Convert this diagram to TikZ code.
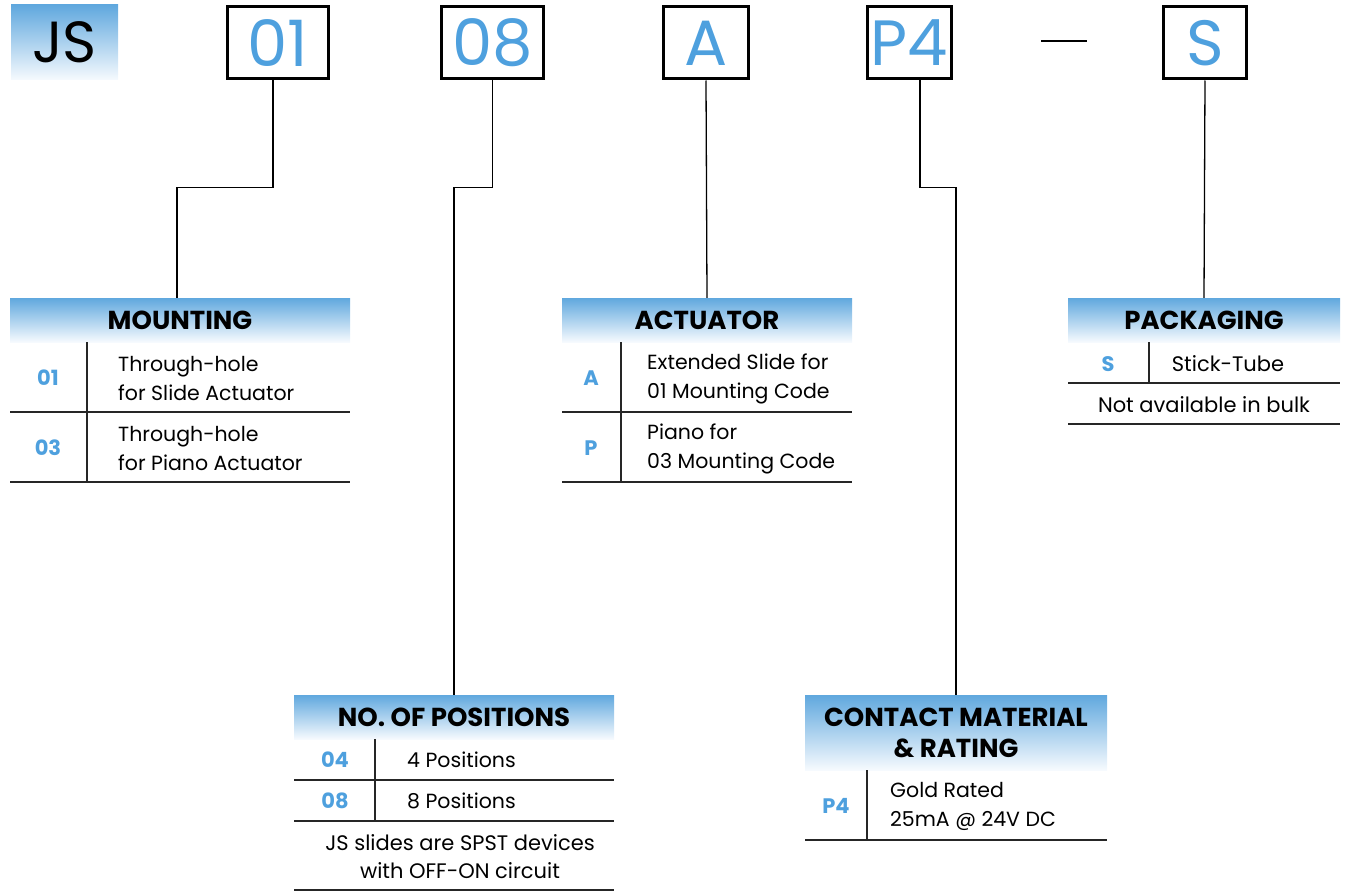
\documentclass[tikz,border=0pt]{standalone}
\usepackage{fontspec}
\setmainfont{Poppins}
\definecolor{hblue}{RGB}{78,160,222}
\definecolor{gtop}{RGB}{96,168,222}
\definecolor{gbot}{RGB}{246,250,254}
\tikzset{
  bigbox/.style={draw=black, line width=3pt, minimum height=72pt, inner sep=0pt,
    font=\fontsize{64}{64}\selectfont, text=hblue},
  conn/.style={line width=1.3pt},
  rulel/.style={line width=1.5pt, draw=black!85},
  hdr/.style={inner sep=0pt, font=\bfseries\fontsize{26}{31}\selectfont, align=center,
    top color=gtop, bottom color=gbot},
  code/.style={font=\bfseries\fontsize{21}{22}\selectfont, text=hblue, inner sep=0pt},
  body/.style={font=\fontsize{20.5}{29}\selectfont, align=left, anchor=west, inner sep=0pt},
  note/.style={font=\fontsize{21}{28}\selectfont, align=center, inner sep=0pt},
}
\begin{document}
\begin{tikzpicture}[x=1pt,y=-1pt]
\useasboundingbox (0,0) rectangle (1345,891);
% top code boxes
\node[minimum width=107pt, minimum height=75pt, inner sep=0pt, top color=gtop, bottom color=gbot,
  font=\fontsize{58}{58}\selectfont] (js) at (64.5,42.5) {JS};
\node[bigbox, minimum width=101pt] (b01) at (278,43) {01};
\node[bigbox, minimum width=102pt] (b08) at (492.5,43) {08};
\node[bigbox, minimum width=85pt] (bA) at (706,43) {A};
\node[bigbox, minimum width=84pt] (bP4) at (909.5,43) {P4};
\node[bigbox, minimum width=83pt] (bS) at (1205,43) {S};
\coordinate (d1) at (1041,41);
\coordinate (d2) at (1087,41);
\draw[line width=2.5pt] (d1) -- (d2);

% headers
\node[hdr, minimum width=340pt, minimum height=44pt] (mount) at (180,320) {MOUNTING};
\node[hdr, minimum width=290pt, minimum height=44pt] (act) at (707,320) {ACTUATOR};
\node[hdr, minimum width=272pt, minimum height=44pt] (pack) at (1204,320) {PACKAGING};
\node[hdr, minimum width=320pt, minimum height=44pt] (pos) at (454,717) {NO. OF POSITIONS};
\node[hdr, minimum width=302pt, minimum height=75pt] (cont) at (956,732.5) {CONTACT MATERIAL\\\& RATING};

% connectors
\draw[conn] ([xshift=-5pt]b01.south) -- ++(0,107) -| ([xshift=-3pt]mount.north);
\draw[conn] (b08.south) -- ++(0,107) -| (pos.north);
\draw[conn] (bA.south) -- (act.north);
\draw[conn] ([xshift=10.5pt]bP4.south) -- ++(0,107) -| (cont.north);
\draw[conn] (bS.south) -- (pack.north);

% mounting table
\draw[rulel] (10,412) -- (350,412);
\draw[rulel] (10,482) -- (350,482);
\draw[rulel] (87,342) -- (87,482);
\node[code] (m01) at (48,378) {01};
\node[body] (m01t) at (118,379) {Through-hole\\for Slide Actuator};
\node[code] (m03) at (48,448) {03};
\node[body] (m03t) at (118,449) {Through-hole\\for Piano Actuator};

% actuator table
\draw[rulel] (562,412) -- (852,412);
\draw[rulel] (562,482) -- (852,482);
\draw[rulel] (621,342) -- (621,482);
\node[code] (aA) at (591,378) {A};
\node[body] (aAt) at (647,379) {Extended Slide for\\01 Mounting Code};
\node[code] (aP) at (591,448) {P};
\node[body] (aPt) at (647,449) {Piano for\\03 Mounting Code};

% packaging table
\draw[rulel] (1068,383) -- (1340,383);
\draw[rulel] (1068,424) -- (1340,424);
\draw[rulel] (1149,342) -- (1149,383);
\node[code] (pS) at (1108,364) {S};
\node[note] (pSt) at (1228,364) {Stick-Tube};
\node[note] (pn) at (1204,405) {Not available in bulk};

% positions table
\draw[rulel] (294,780) -- (614,780);
\draw[rulel] (294,821) -- (614,821);
\draw[rulel] (294,890) -- (614,890);
\draw[rulel] (375,739) -- (375,821);
\node[code] (q04) at (335,760) {04};
\node[body] (q04t) at (407,760) {4 Positions};
\node[code] (q08) at (335,801) {08};
\node[body] (q08t) at (407,801) {8 Positions};
\node[note] (qn) at (460,857) {JS slides are SPST devices\\with OFF-ON circuit};

% contact table
\draw[rulel] (805,840) -- (1107,840);
\draw[rulel] (867,770) -- (867,840);
\node[code] (cP4) at (836,806) {P4};
\node[body] (cP4t) at (890,806) {Gold Rated\\25mA @ 24V DC};
\end{tikzpicture}
\end{document}
